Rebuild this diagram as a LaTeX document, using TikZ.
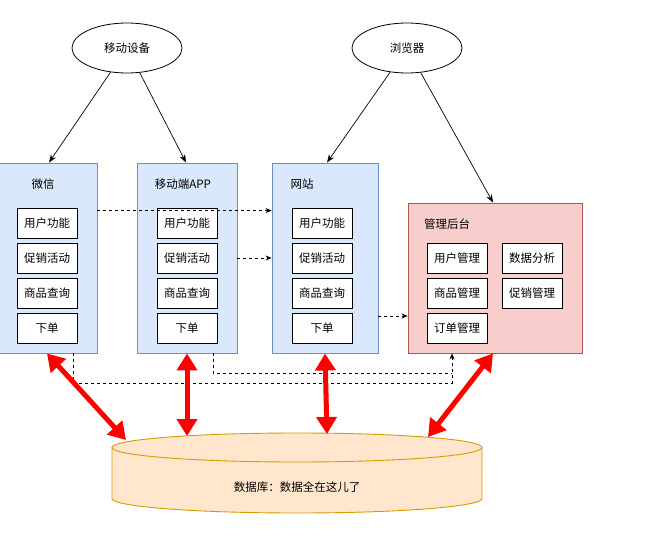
\documentclass[tikz,border=0pt]{standalone}
\usepackage{fontspec}
\newfontfamily\cjk{Noto Sans CJK SC}
\usetikzlibrary{shapes.geometric,arrows.meta,calc}
\definecolor{bluefill}{HTML}{DAE8FC}
\definecolor{blueline}{HTML}{6C8EBF}
\definecolor{redfill}{HTML}{F8CECC}
\definecolor{redline}{HTML}{B85450}
\definecolor{dbfill}{HTML}{FFE6CC}
\definecolor{dbline}{HTML}{D79B00}
\definecolor{bigred}{HTML}{FF0000}
\tikzset{
  every node/.style={font=\cjk\fontsize{11.5}{13}\selectfont, inner sep=0pt},
  device/.style={ellipse, draw=black, line width=0.8pt, minimum width=110pt, minimum height=50pt},
  clientbox/.style={rectangle, draw=blueline, fill=bluefill, line width=0.9pt, minimum width=100pt, minimum height=190pt},
  adminbox/.style={rectangle, draw=redline, fill=redfill, line width=0.9pt, minimum width=174pt, minimum height=150pt},
  func/.style={rectangle, draw=black, fill=white, line width=0.8pt, minimum width=60pt, minimum height=30pt},
  thinarrow/.style={draw=black, line width=0.7pt, -{Stealth[length=8pt,width=6pt]}},
  dasharrow/.style={draw=black, line width=0.7pt, dash pattern=on 3pt off 3pt, -{Stealth[length=6pt,width=5pt]}},
  dashline/.style={draw=black, line width=0.7pt, dash pattern=on 3pt off 3pt},
  bigarrow/.style={draw=bigred, line width=5pt, {Triangle[length=17pt,width=20pt]}-{Triangle[length=17pt,width=20pt]}}
}
\begin{document}
\begin{tikzpicture}[x=1pt,y=-1pt]
\useasboundingbox[fill=white] (0,0) rectangle (647,538);

% devices
\node[device] (mob) at (127,48) {移动设备};
\node[device] (brw) at (407,48) {浏览器};

% client boxes
\node[clientbox] (wx) at (47,258) {};
\node[clientbox] (app) at (187,258) {};
\node[clientbox, minimum width=106pt] (web) at (325,258) {};
\node[adminbox] (adm) at (495,278) {};

% titles
\node (wxt) at (43,184) {微信};
\node (appt) at (183,184) {移动端APP};
\node (webt) at (302,184) {网站};
\node (admt) at (447,224) {管理后台};

% functions
\foreach \n/\x in {wx/47,app/187,web/322}{
  \node[func] (\n1) at (\x,223) {用户功能};
  \node[func] (\n2) at (\x,258) {促销活动};
  \node[func] (\n3) at (\x,293) {商品查询};
  \node[func] (\n4) at (\x,328) {下单};
}
\node[func] (a1) at (457,258) {用户管理};
\node[func] (a2) at (457,293) {商品管理};
\node[func] (a3) at (457,328) {订单管理};
\node[func] (a4) at (532,258) {数据分析};
\node[func] (a5) at (532,293) {促销管理};

% database cylinder
\fill[dbfill] (112,447.5) -- (112,498.5) arc[start angle=180,end angle=360,x radius=185pt,y radius=14.5pt]
  -- (482,447.5) arc[start angle=0,end angle=180,x radius=185pt,y radius=14.5pt] -- cycle;
\draw[dbline, line width=0.9pt] (112,447.5) -- (112,498.5) arc[start angle=180,end angle=360,x radius=185pt,y radius=14.5pt] -- (482,447.5);
\draw[dbline, line width=0.9pt] (297,447.5) ellipse[x radius=185pt, y radius=14.5pt];
\node (db) at (297,487) {数据库：数据全在这儿了};
\coordinate (d1) at (126,440);
\coordinate (d2) at (187,436);
\coordinate (d3) at (327,434);
\coordinate (d4) at (428,437);

% device arrows
\draw[thinarrow] (mob) -- ($(wx.north)+(2,0)$);
\draw[thinarrow] (mob) -- ($(app.north)+(-1,0)$);
\draw[thinarrow] (brw) -- ($(web.north)+(2,0)$);
\draw[thinarrow] (brw) -- ($(adm.north)+(-2,0)$);

% dashed links
\draw[dasharrow] ($(wx.north east)+(0,48)$) -- ($(web.north west)+(0,48)$);
\draw[dasharrow] (app.east) -- (web.west);
\draw[dasharrow] ($(web.east)+(0,58)$) -- ($(adm.west)+(0,38)$);
\coordinate (j) at ($(adm.south)+(-43,0)$);
\draw[dashline] ($(app.south)+(26,0)$) |- ($(j)+(0,20)$);
\draw[dasharrow] ($(wx.south)+(26,0)$) |- ($(j)+(0,30)$) -- (j);

% database links
\draw[bigarrow] (wx.south) -- (d1);
\draw[bigarrow] (app.south) -- (d2);
\draw[bigarrow] (web.south) -- (d3);
\draw[bigarrow] ($(adm.south)+(-2,0)$) -- (d4);
\end{tikzpicture}
\end{document}
